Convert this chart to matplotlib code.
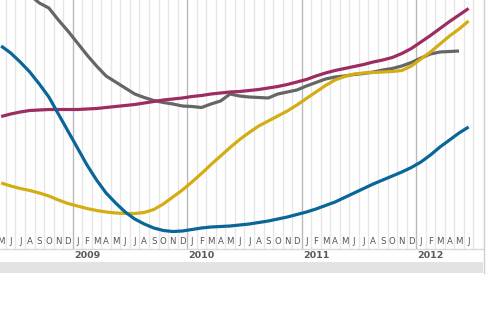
import matplotlib
matplotlib.use("Agg")
import matplotlib.pyplot as plt
from matplotlib.transforms import blended_transform_factory
from matplotlib.patches import Rectangle
from matplotlib.lines import Line2D

# Month index: 0 = Jan 2009 (values plotted at middle of month cell)
months_blue = list(range(-8, 42))
blue = [203, 196, 187, 177, 165, 152, 135, 118,
        101, 84, 69, 56, 46, 37, 30, 25, 21, 18.5, 17.5, 18,
        19.5, 21, 22, 22.5, 23, 24, 25, 26.5, 28, 30, 32, 34.5,
        37, 40, 43.5, 47, 51.5, 56, 60.5, 65, 69, 73, 77, 81.5,
        87, 94, 102, 109, 116, 122]

months_yellow = list(range(-8, 42))
yellow = [66, 63, 60.5, 58.5, 56, 53, 49, 45.5,
          43, 40.5, 38.5, 37, 36, 35.5, 35.5, 36.5, 39.5, 45, 52, 59,
          67, 75.5, 84.5, 93, 101.5, 109.5, 116.5, 123, 128, 133, 138, 144,
          150.5, 157, 163.5, 169, 172.5, 175, 176, 176.5, 177, 177.5, 178.5, 183,
          190, 197, 205, 213, 220, 228]

months_magenta = list(range(-8, 42))
magenta = [132.5, 135, 137, 138.5, 139, 139.5, 139.5, 139.5,
           139.5, 140, 140.5, 141.5, 142.5, 143.5, 144.5, 146, 147.5, 149, 150, 151,
           152.5, 153.5, 155, 156, 157, 157.5, 158.5, 159.5, 161, 162.5, 164.5, 167,
           169.5, 173, 176, 178.5, 180.5, 182.5, 184.5, 187, 189, 191.5, 195.5, 200.5,
           207, 213.5, 220.5, 227.5, 234, 240.5]

months_gray = list(range(-5, 41))
gray = [254, 246, 241, 229, 218,
        206, 194, 183, 173, 167, 161, 155, 151.5, 148.5, 146.5, 145, 143,
        142.5, 141.5, 145, 148, 155, 153, 152, 151.5, 151, 155, 157, 159,
        163, 166.5, 170, 172, 173, 174.5, 175.5, 177, 179, 180.5, 183, 186.5,
        191, 195, 197, 197.5, 198]

month_letters = ["J", "F", "M", "A", "M", "J", "J", "A", "S", "O", "N", "D"]
years = [2008, 2009, 2010, 2011, 2012]
first_month = -8   # May 2008 (partially visible)
last_labeled_month = 41  # Jun 2012

W, H = 495, 330
fig = plt.figure(figsize=(W / 100, H / 100), dpi=100)
fig.patch.set_facecolor("white")

ax_bottom_px = 249
ax_right_px = 483
ax = fig.add_axes([0, 1 - ax_bottom_px / H, ax_right_px / W, ax_bottom_px / H])
ax.set_facecolor("white")
px_per_month = 9.54
x0_px = 72.7
ax.set_xlim((0 - x0_px) / px_per_month, (ax_right_px - x0_px) / px_per_month)
ax.set_ylim(0, 249)
for s in ax.spines.values():
    s.set_visible(False)
ax.set_xticks([])
ax.set_yticks([])

# grid lines at month boundaries
for m in range(first_month, 44):
    is_year = (m % 12 == 0)
    ax.axvline(m, color="#b9b9b9" if is_year else "#e6e6e6",
               lw=1.0, zorder=1)

# series
def xs(ms):
    return [m + 0.5 for m in ms]

lw = 2.3
ax.plot(xs(months_gray), gray, color="#666666", lw=lw, zorder=3,
        solid_capstyle="butt", solid_joinstyle="round")
ax.plot(xs(months_magenta), magenta, color="#9c2c62", lw=lw, zorder=4,
        solid_capstyle="butt", solid_joinstyle="round")
ax.plot(xs(months_yellow), yellow, color="#d4ad14", lw=lw, zorder=5,
        solid_capstyle="butt", solid_joinstyle="round")
ax.plot(xs(months_blue), blue, color="#0a6698", lw=lw, zorder=6,
        solid_capstyle="butt", solid_joinstyle="round")

# month labels
trans = blended_transform_factory(ax.transData, fig.transFigure)
for m in range(first_month, last_labeled_month + 1):
    ax.text(m + 0.5, 1 - 241.5 / H, month_letters[m % 12], transform=trans,
            ha="center", va="center", fontsize=6.2, color="#555555",
            family="DejaVu Sans", clip_on=False)

# year labels
for yr in years:
    m = (yr - 2009) * 12
    if m < first_month:
        continue
    ax.text(m + 0.15, 1 - 255.5 / H, str(yr), transform=trans,
            ha="left", va="center", fontsize=6.8, fontweight="bold",
            color="#5a5a5a", family="DejaVu Sans", clip_on=False)

# horizontal separators and bottom band
fig.add_artist(Line2D([0, ax_right_px / W], [1 - 249 / H, 1 - 249 / H],
                      transform=fig.transFigure, color="#d8d8d8", lw=1.0))
fig.add_artist(Rectangle((0, 1 - 273 / H), ax_right_px / W, 11 / H,
                         transform=fig.transFigure, facecolor="#e3e3e3",
                         edgecolor="none"))
fig.add_artist(Line2D([ax_right_px / W + 0.5 / W] * 2, [1, 1 - 273 / H],
                      transform=fig.transFigure, color="#cfcfcf", lw=1.0))

fig.savefig("out.png", dpi=100, facecolor="white")
